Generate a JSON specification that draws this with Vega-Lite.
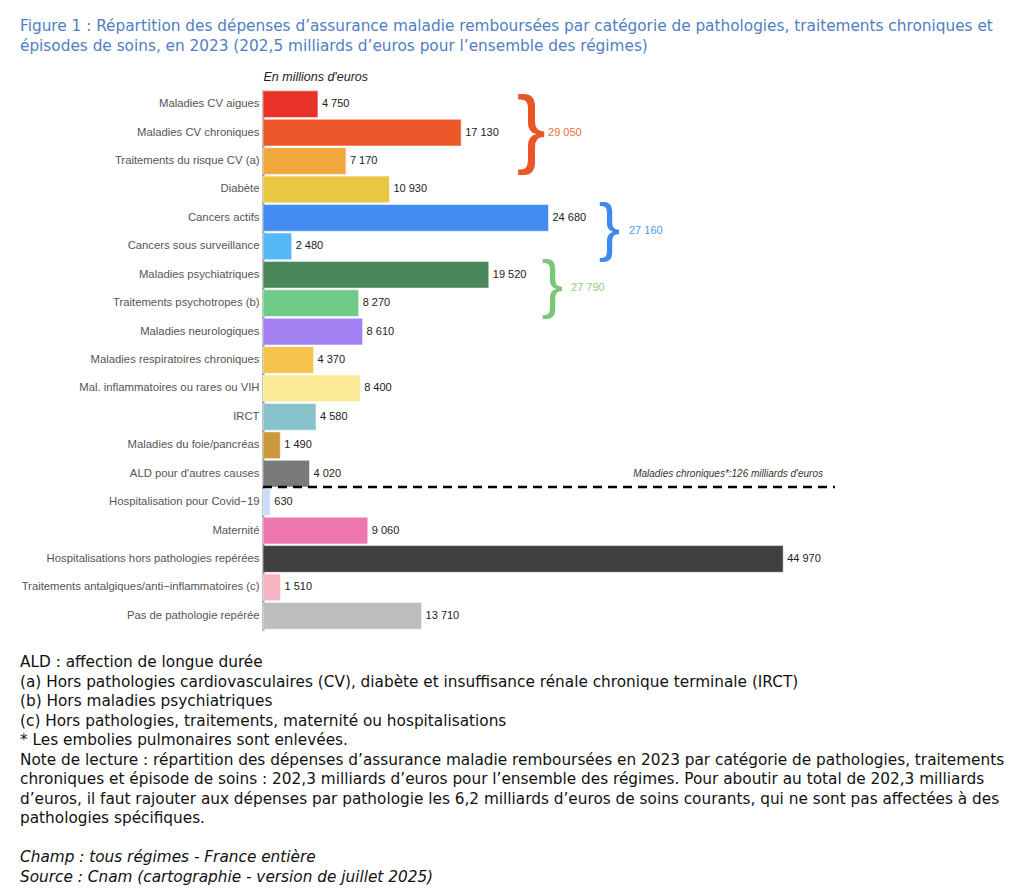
{
  "$schema": "https://vega.github.io/schema/vega-lite/v6.json",
  "background": "white",
  "padding": {"top": 18, "left": 20, "right": 4, "bottom": 2},
  "title": {
    "text": ["Figure 1 : Répartition des dépenses d’assurance maladie remboursées par catégorie de pathologies, traitements chroniques et", "épisodes de soins, en 2023 (202,5 milliards d’euros pour l’ensemble des régimes)"],
    "anchor": "start", "font": "DejaVu Sans", "fontSize": 15.3, "fontWeight": "normal", "color": "#4F7EC1", "lineHeight": 20, "offset": 16
  },
  "datasets": {
    "depenses": [
      {"categorie": "Maladies CV aigues", "montant": 4750},
      {"categorie": "Maladies CV chroniques", "montant": 17130},
      {"categorie": "Traitements du risque CV (a)", "montant": 7170},
      {"categorie": "Diabète", "montant": 10930},
      {"categorie": "Cancers actifs", "montant": 24680},
      {"categorie": "Cancers sous surveillance", "montant": 2480},
      {"categorie": "Maladies psychiatriques", "montant": 19520},
      {"categorie": "Traitements psychotropes (b)", "montant": 8270},
      {"categorie": "Maladies neurologiques", "montant": 8610},
      {"categorie": "Maladies respiratoires chroniques", "montant": 4370},
      {"categorie": "Mal. inflammatoires ou rares ou VIH", "montant": 8400},
      {"categorie": "IRCT", "montant": 4580},
      {"categorie": "Maladies du foie/pancréas", "montant": 1490},
      {"categorie": "ALD pour d'autres causes", "montant": 4020},
      {"categorie": "Hospitalisation pour Covid−19", "montant": 630},
      {"categorie": "Maternité", "montant": 9060},
      {"categorie": "Hospitalisations hors pathologies repérées", "montant": 44970},
      {"categorie": "Traitements antalgiques/anti−inflammatoires (c)", "montant": 1510},
      {"categorie": "Pas de pathologie repérée", "montant": 13710}
    ],
    "notes": [
      {"ligne": 0, "bloc": "notes", "texte": "ALD : affection de longue durée"},
      {"ligne": 1, "bloc": "notes", "texte": "(a) Hors pathologies cardiovasculaires (CV), diabète et insuffisance rénale chronique terminale (IRCT)"},
      {"ligne": 2, "bloc": "notes", "texte": "(b) Hors maladies psychiatriques"},
      {"ligne": 3, "bloc": "notes", "texte": "(c) Hors pathologies, traitements, maternité ou hospitalisations"},
      {"ligne": 4, "bloc": "notes", "texte": "* Les embolies pulmonaires sont enlevées."},
      {"ligne": 5, "bloc": "notes", "texte": "Note de lecture : répartition des dépenses d’assurance maladie remboursées en 2023 par catégorie de pathologies, traitements"},
      {"ligne": 6, "bloc": "notes", "texte": "chroniques et épisode de soins : 202,3 milliards d’euros pour l’ensemble des régimes. Pour aboutir au total de 202,3 milliards"},
      {"ligne": 7, "bloc": "notes", "texte": "d’euros, il faut rajouter aux dépenses par pathologie les 6,2 milliards d’euros de soins courants, qui ne sont pas affectées à des"},
      {"ligne": 8, "bloc": "notes", "texte": "pathologies spécifiques."},
      {"ligne": 10, "bloc": "source", "texte": "Champ : tous régimes - France entière"},
      {"ligne": 11, "bloc": "source", "texte": "Source : Cnam (cartographie - version de juillet 2025)"}
    ]
  },
  "spacing": 25,
  "vconcat": [
    {
      "width": 572,
      "height": 540,
      "data": {"name": "depenses"},
      "layer": [
        {
          "mark": {"type": "bar", "stroke": "white", "strokeOpacity": 0.5, "strokeWidth": 1},
          "encoding": {
            "y": {
              "field": "categorie", "type": "nominal", "sort": null,
              "scale": {
                "domain": ["Maladies CV aigues", "Maladies CV chroniques", "Traitements du risque CV (a)", "Diabète", "Cancers actifs", "Cancers sous surveillance", "Maladies psychiatriques", "Traitements psychotropes (b)", "Maladies neurologiques", "Maladies respiratoires chroniques", "Mal. inflammatoires ou rares ou VIH", "IRCT", "Maladies du foie/pancréas", "ALD pour d'autres causes", "Hospitalisation pour Covid−19", "Maternité", "Hospitalisations hors pathologies repérées", "Traitements antalgiques/anti−inflammatoires (c)", "Pas de pathologie repérée"],
                "paddingInner": 0.06, "paddingOuter": 0.03
              },
              "axis": {
                "title": "En millions d'euros", "titleAngle": 0, "titleX": 0, "titleY": -7, "titleAlign": "left", "titleBaseline": "bottom",
                "titleFontStyle": "italic", "titleFontWeight": "normal", "titleFontSize": 12.5, "titleColor": "#222",
                "labelFontSize": 11.3, "labelColor": "#555", "labelPadding": 4, "labelLimit": 300, "ticks": false,
                "domainColor": "#666", "domainWidth": 2
              }
            },
            "x": {"field": "montant", "type": "quantitative", "scale": {"domain": [0, 49450], "nice": false}, "axis": null},
            "color": {
              "field": "categorie", "type": "nominal", "legend": null,
              "scale": {
                "domain": ["Maladies CV aigues", "Maladies CV chroniques", "Traitements du risque CV (a)", "Diabète", "Cancers actifs", "Cancers sous surveillance", "Maladies psychiatriques", "Traitements psychotropes (b)", "Maladies neurologiques", "Maladies respiratoires chroniques", "Mal. inflammatoires ou rares ou VIH", "IRCT", "Maladies du foie/pancréas", "ALD pour d'autres causes", "Hospitalisation pour Covid−19", "Maternité", "Hospitalisations hors pathologies repérées", "Traitements antalgiques/anti−inflammatoires (c)", "Pas de pathologie repérée"],
                "range": ["#E8322A", "#EA5628", "#F0A83C", "#E8C842", "#448CF2", "#56B8F7", "#4A875A", "#6FCB87", "#A381F3", "#F5C24C", "#FCE996", "#88C3CB", "#C9993A", "#7A7A7A", "#C9DDF8", "#EE77B0", "#404040", "#F3B5C0", "#BDBDBD"]
              }
            }
          }
        },
        {
          "mark": {"type": "text", "align": "left", "baseline": "middle", "dx": 4, "fontSize": 11, "color": "#222"},
          "encoding": {
            "y": {"field": "categorie", "type": "nominal", "sort": null},
            "x": {"field": "montant", "type": "quantitative"},
            "text": {"field": "montant", "type": "quantitative", "format": ","}
          }
        },
        {
          "data": {"values": [{}]},
          "mark": {"type": "rule", "strokeDash": [9, 6], "strokeWidth": 2.6, "color": "black"},
          "encoding": {
            "x": {"datum": 0},
            "x2": {"datum": 49450},
            "y": {"datum": "ALD pour d'autres causes", "bandPosition": 1}
          }
        },
        {
          "data": {"values": [{}]},
          "mark": {"type": "text", "align": "right", "baseline": "middle", "fontSize": 10, "fontStyle": "italic", "color": "#333", "text": "Maladies chroniques*:126 milliards d'euros"},
          "encoding": {
            "x": {"datum": 48410},
            "y": {"datum": "ALD pour d'autres causes"}
          }
        },
        {
          "data": {"values": [{"total": 29050}]},
          "layer": [
            {
              "mark": {"type": "text", "text": "}", "font": "Liberation Sans", "fontSize": 87, "color": "#EA5628", "align": "center", "baseline": "middle", "dy": -2},
              "encoding": {"x": {"datum": 23200}, "y": {"datum": "Maladies CV chroniques"}}
            },
            {
              "mark": {"type": "text", "align": "left", "baseline": "middle", "fontSize": 11, "color": "#F2703C"},
              "encoding": {"x": {"datum": 24640}, "y": {"datum": "Maladies CV chroniques"}, "text": {"field": "total", "type": "quantitative", "format": ","}}
            }
          ]
        },
        {
          "data": {"values": [{"total": 27160}]},
          "layer": [
            {
              "mark": {"type": "text", "text": "}", "font": "Liberation Sans", "fontSize": 64, "color": "#3E8AF0", "align": "center", "baseline": "middle", "dy": -1},
              "encoding": {"x": {"datum": 29955}, "y": {"datum": "Cancers actifs", "bandPosition": 1}}
            },
            {
              "mark": {"type": "text", "align": "left", "baseline": "middle", "fontSize": 11, "color": "#4A9BF0"},
              "encoding": {"x": {"datum": 31640}, "y": {"datum": "Cancers actifs", "bandPosition": 1}, "text": {"field": "total", "type": "quantitative", "format": ","}}
            }
          ]
        },
        {
          "data": {"values": [{"total": 27790}]},
          "layer": [
            {
              "mark": {"type": "text", "text": "}", "font": "Liberation Sans", "fontSize": 64, "color": "#7CC67A", "align": "center", "baseline": "middle", "dy": -1},
              "encoding": {"x": {"datum": 25030}, "y": {"datum": "Maladies psychiatriques", "bandPosition": 1}}
            },
            {
              "mark": {"type": "text", "align": "left", "baseline": "middle", "fontSize": 11, "color": "#8ED08A"},
              "encoding": {"x": {"datum": 26630}, "y": {"datum": "Maladies psychiatriques", "bandPosition": 1}, "text": {"field": "total", "type": "quantitative", "format": ","}}
            }
          ]
        }
      ]
    },
    {
      "width": 737,
      "height": 215,
      "data": {"name": "notes"},
      "encoding": {
        "x": {"datum": 0, "scale": {"domain": [0, 1], "range": [-243, 737]}, "axis": null},
        "y": {"field": "ligne", "type": "quantitative", "scale": {"domain": [0, 11], "reverse": true}, "axis": null},
        "text": {"field": "texte", "type": "nominal"}
      },
      "layer": [
        {
          "transform": [{"filter": "datum.bloc == 'notes'"}],
          "mark": {"type": "text", "align": "left", "baseline": "middle", "font": "DejaVu Sans", "fontSize": 15.3, "color": "#111"}
        },
        {
          "transform": [{"filter": "datum.bloc == 'source'"}],
          "mark": {"type": "text", "align": "left", "baseline": "middle", "font": "DejaVu Sans", "fontSize": 15.3, "fontStyle": "italic", "color": "#111"}
        }
      ]
    }
  ],
  "config": {
    "view": {"stroke": null},
    "font": "Liberation Sans",
    "locale": {"number": {"decimal": ",", "thousands": " ", "grouping": [3], "currency": ["", " €"]}}
  }
}
